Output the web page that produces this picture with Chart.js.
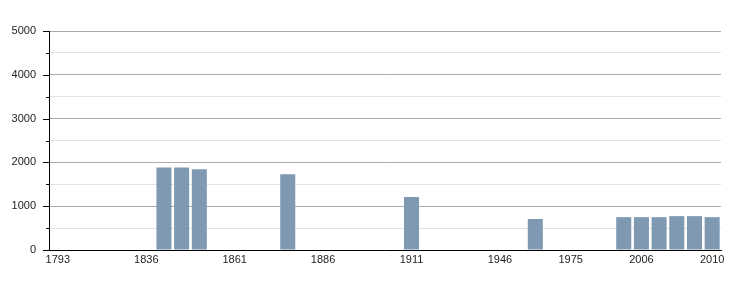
<!DOCTYPE html>
<html>
<head>
<meta charset="utf-8">
<script src="https://cdn.jsdelivr.net/npm/chart.js@4"></script>
<style>
  html, body { margin: 0; padding: 0; background: #fff; }
  #wrap { width: 750px; height: 300px; }
</style>
</head>
<body>
<div id="wrap"><canvas id="popChart"></canvas></div>
<script>
// census years (one category per year)
const years = [1793, 1800, 1806, 1821, 1831, 1836, 1841, 1846, 1851, 1856,
  1861, 1866, 1872, 1876, 1881, 1886, 1891, 1896, 1901, 1906,
  1911, 1921, 1926, 1931, 1936, 1946, 1954, 1962, 1968, 1975,
  1982, 1990, 1999, 2006, 2007, 2008, 2009, 2010];

// population, null where no figure
const population = [null, null, null, null, null, null, 1886, 1886, 1841, null,
  null, null, null, 1727, null, null, null, null, null, null,
  1210, null, null, null, null, null, null, 708, null, null,
  null, null, 750, 750, 750, 773, 773, 750];

// years printed under the axis
const shownYears = [1793, 1836, 1861, 1886, 1911, 1946, 1975, 2006, 2010];

const yMax = 5000;
const yStep = 500;

// short ticks on the y axis: long for thousands, short for halves
const yTickMarks = {
  id: 'yTickMarks',
  afterDraw(chart) {
    const ctx = chart.ctx;
    const y = chart.scales.y;
    const left = chart.chartArea.left;
    ctx.save();
    ctx.strokeStyle = '#000';
    ctx.lineWidth = 1;
    y.ticks.forEach(t => {
      const py = Math.round(y.getPixelForValue(t.value)) + 0.5;
      const len = t.value % 1000 === 0 ? 6 : 3;
      ctx.beginPath();
      ctx.moveTo(left - len, py);
      ctx.lineTo(left, py);
      ctx.stroke();
    });
    ctx.restore();
  }
};

Chart.defaults.font.family = '"Liberation Sans", Arial, sans-serif';
Chart.defaults.font.size = 11;
Chart.defaults.color = '#222';

new Chart(document.getElementById('popChart').getContext('2d'), {
  type: 'bar',
  data: {
    labels: years,
    datasets: [{
      label: 'Population',
      data: population,
      backgroundColor: '#7f99b3',
      categoryPercentage: 1,
      barPercentage: 0.85
    }]
  },
  options: {
    responsive: true,
    maintainAspectRatio: false,
    animation: false,
    layout: { padding: { top: 31, right: 29, bottom: 0, left: 0 } },
    plugins: {
      legend: { display: false },
      tooltip: { enabled: false }
    },
    scales: {
      x: {
        grid: { display: false, drawTicks: false },
        border: { color: '#000', width: 1 },
        ticks: {
          autoSkip: false,
          maxRotation: 0,
          padding: 3,
          callback: function (v, i) {
            const yr = years[i];
            return shownYears.includes(yr) ? String(yr) : '';
          }
        },
        afterFit: s => { s.height = 50; }
      },
      y: {
        min: 0,
        max: yMax,
        grid: {
          color: c => (c.tick.value % 1000 === 0 ? '#aaaaaa' : '#e2e2e2'),
          tickColor: 'transparent',
          tickLength: 6
        },
        border: { color: '#000', width: 1 },
        ticks: {
          stepSize: yStep,
          padding: 7,
          callback: v => (v % 1000 === 0 ? String(v) : '')
        },
        afterFit: s => { s.width = 49; }
      }
    }
  },
  plugins: [yTickMarks]
});
</script>
</body>
</html>
